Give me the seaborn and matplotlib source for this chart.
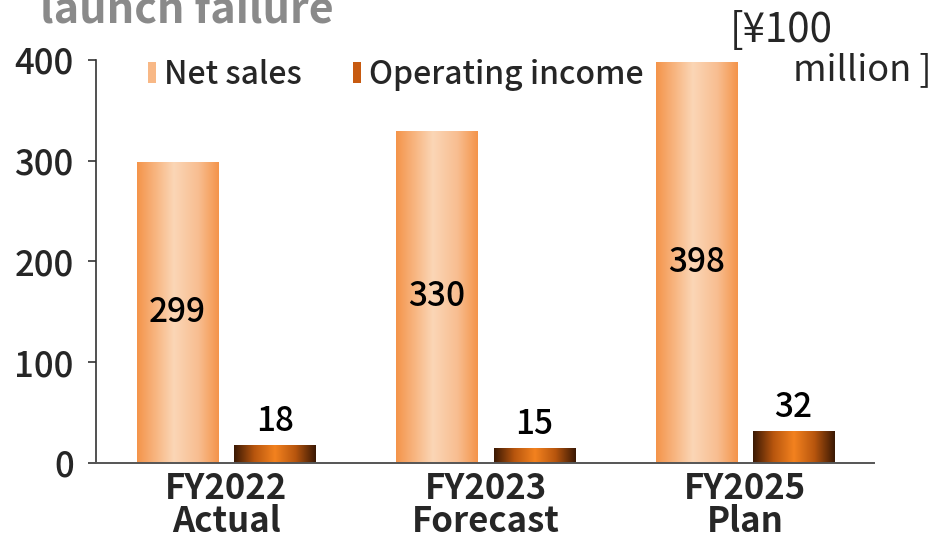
import numpy as np
import pandas as pd
import matplotlib
matplotlib.use("Agg")
import matplotlib.pyplot as plt
from matplotlib.colors import LinearSegmentedColormap
from matplotlib.patches import Patch
import seaborn as sns

# data
years = ["FY2022\nActual", "FY2023\nForecast", "FY2025\nPlan"]
net_sales = [299, 330, 398]
operating_income = [18, 15, 32]
series_names = ["Net sales", "Operating income"]

df = pd.DataFrame({
    "Year": years * 2,
    "Series": [series_names[0]] * 3 + [series_names[1]] * 3,
    "Value": net_sales + operating_income,
})

sns.set_theme(style="white")
plt.rcParams["font.family"] = ["Noto Sans CJK JP", "DejaVu Sans"]

fig = plt.figure(figsize=(9.34, 5.4), dpi=100)
ax = fig.add_axes([96 / 934, 0.1426, 778 / 934, 0.7463])

sns.barplot(data=df, x="Year", y="Value", hue="Series", order=years,
            hue_order=series_names, palette=["#F59A4E", "#E0741A"],
            width=0.75, gap=0.165, legend=False, ax=ax)

# cylinder-like gradients
cm_sales = LinearSegmentedColormap.from_list(
    "sales", [(0, "#F4944A"), (0.45, "#FBD6B6"), (0.75, "#F8BE91"), (1, "#F4944A")])
cm_income = LinearSegmentedColormap.from_list(
    "income", [(0, "#3A1904"), (0.25, "#B8560E"), (0.5, "#F3821F"), (0.75, "#B8560E"), (1, "#3A1904")])
grad = np.linspace(0, 1, 256).reshape(1, -1)

for i, bar in enumerate(ax.patches[:6]):
    x, y = bar.get_x(), bar.get_y()
    w, h = bar.get_width(), bar.get_height()
    cmap = cm_sales if i < 3 else cm_income
    im = ax.imshow(grad, cmap=cmap, aspect="auto", extent=[x, x + w, y, y + h],
                   zorder=bar.get_zorder() + 0.1)
    im.set_clip_path(bar)
    cx = x + w / 2
    if i < 3:
        ax.text(cx, h / 2, f"{int(round(h))}", ha="center", va="center",
                fontsize=24, fontweight="medium", color="black", zorder=5)
    else:
        ax.text(cx, h + 6, f"{int(round(h))}", ha="center", va="bottom",
                fontsize=24, fontweight="medium", color="black", zorder=5)

ax.set_xlim(-0.502, 2.498)
ax.set_ylim(0, 400)
ax.set_yticks([0, 100, 200, 300, 400])
ax.set_xlabel("")
ax.set_ylabel("")

for s in ["top", "right"]:
    ax.spines[s].set_visible(False)
ax.spines["left"].set_color("#333333")
ax.spines["bottom"].set_color("#555555")
ax.spines["left"].set_linewidth(1.2)
ax.spines["bottom"].set_linewidth(1.4)

ax.tick_params(axis="y", left=True, length=6, width=1.2, color="#333333",
               labelsize=25, pad=10)
ax.tick_params(axis="x", bottom=False, labelsize=25, pad=0)
for lab in ax.get_xticklabels():
    lab.set_fontweight("bold")
    lab.set_linespacing(0.9)
for lab in ax.get_yticklabels():
    lab.set_fontweight("medium")

handles = [Patch(facecolor="#F8B886", edgecolor="none"),
           Patch(facecolor="#C75A10", edgecolor="none")]
ax.legend(handles, series_names, loc="upper left", bbox_to_anchor=(0.03, 1.075),
          ncol=2, frameon=False, handlelength=0.25, handleheight=0.65,
          handletextpad=0.25, columnspacing=1.6, prop={"weight": "medium", "size": 23})

fig.text(730 / 934, 1 - 31 / 540, "[¥100", fontsize=29, ha="left", va="center")
fig.text(793 / 934, 1 - 70 / 540, "million ]", fontsize=26, ha="left", va="center")
fig.text(40 / 934, 1 - 24 / 540, "launch failure", fontsize=31, fontweight="bold",
         color="#8A8A8A", ha="left", va="baseline")

fig.savefig("out.png", dpi=100)
